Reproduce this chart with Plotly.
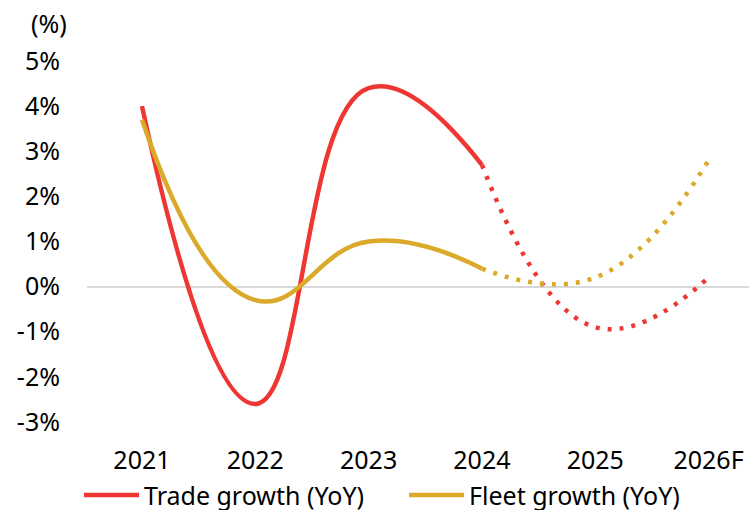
import plotly.graph_objects as go

# Categories and YoY growth values (%)
years = ["2021", "2022", "2023", "2024", "2025", "2026F"]
trade_growth = [4.0, -2.6, 4.4, 2.7, -0.9, 0.2]
fleet_growth = [3.7, -0.3, 1.0, 0.4, 0.2, 2.8]

# Index of the last actual year; later points are forecasts (dotted)
last_actual = 3

RED = "#EE3733"
GOLD = "#DCAA2A"
FONT = "Noto Sans, Open Sans, sans-serif"
SMOOTH = 1.3

x = list(range(len(years)))

fig = go.Figure()


def add_series(name, values, color):
    # Forecast part (dotted)
    fig.add_trace(go.Scatter(
        x=x[last_actual:], y=values[last_actual:],
        mode="lines", line=dict(color=color, width=4.5, dash="4px,8px",
                                shape="spline", smoothing=SMOOTH),
        showlegend=False, hoverinfo="skip"))
    # Actual part (solid)
    fig.add_trace(go.Scatter(
        x=x[:last_actual + 1], y=values[:last_actual + 1],
        mode="lines", name=name,
        line=dict(color=color, width=4.5, shape="spline", smoothing=SMOOTH)))


add_series("Trade growth (YoY)", trade_growth, RED)
add_series("Fleet growth (YoY)", fleet_growth, GOLD)

fig.update_layout(
    width=749, height=510,
    margin=dict(l=87, r=0, t=52, b=70, autoexpand=False),
    paper_bgcolor="white", plot_bgcolor="white",
    font=dict(family=FONT, size=25, color="#000000"),
    xaxis=dict(
        range=[-0.485, 5.357], tickmode="array", tickvals=x, ticktext=years,
        showgrid=False, zeroline=False, showline=False, ticks="",
        ticklabelstandoff=3, fixedrange=True),
    yaxis=dict(
        range=[-3.4, 5.2], tickmode="array",
        tickvals=list(range(-3, 6)),
        ticktext=[f"{v}%" for v in range(-3, 6)],
        showgrid=False, zeroline=True, zerolinecolor="#D9D9D9", zerolinewidth=1.5,
        showline=False, ticks="", ticklabelstandoff=26, fixedrange=True),
    legend=dict(
        orientation="h", xref="container", yref="paper",
        x=79 / 749, y=-0.083, xanchor="left", yanchor="top",
        itemwidth=55, entrywidth=255, entrywidthmode="pixels",
        font=dict(family=FONT, size=25, color="#000000"),
        bgcolor="rgba(0,0,0,0)", borderwidth=0, tracegroupgap=0),
    annotations=[dict(
        text="(%)", xref="paper", yref="paper", x=-0.0574, y=1.075,
        xanchor="center", yanchor="middle", showarrow=False,
        font=dict(family=FONT, size=25, color="#000000"))],
    showlegend=True,
)

fig.write_html("out.html")
